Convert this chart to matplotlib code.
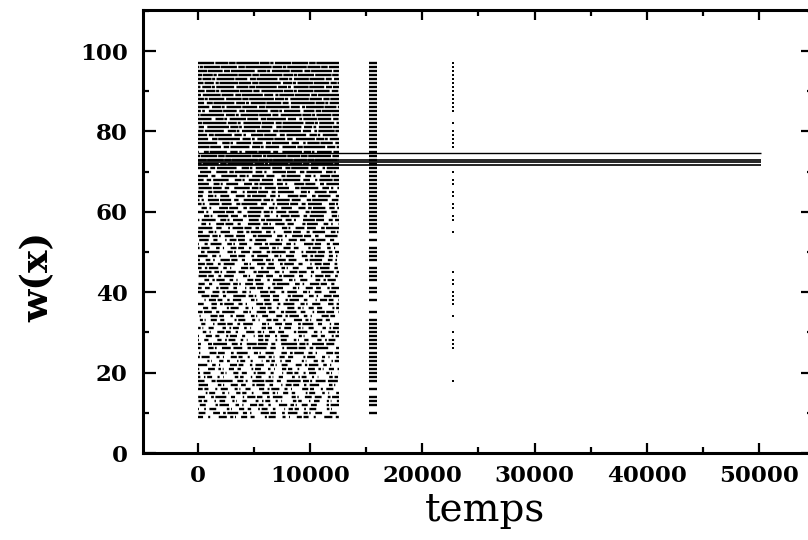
import matplotlib
matplotlib.use("Agg")
import matplotlib.pyplot as plt
from matplotlib.ticker import MultipleLocator

# ---------------- data ----------------
# main block: one row per integer level of w(x), with the fraction of time occupied
block_levels = list(range(9, 98))
block_fill = [
    0.45, 0.55, 0.40, 0.50, 0.35, 0.55, 0.40, 0.45, 0.50, 0.70,   # 9-18
    0.35, 0.45, 0.40, 0.50, 0.35, 0.45, 0.55, 0.65, 0.70, 0.40,   # 19-28
    0.45, 0.50, 0.40, 0.55, 0.45, 0.50, 0.60, 0.45, 0.55, 0.50,   # 29-38
    0.60, 0.55, 0.50, 0.60, 0.50, 0.55, 0.60, 0.50, 0.55, 0.60,   # 39-48
    0.55, 0.65, 0.50, 0.60, 0.55, 0.65, 0.60, 0.65, 0.60, 0.70,   # 49-58
    0.65, 0.70, 0.65, 0.70, 0.75, 0.65, 0.70, 0.75, 0.70, 0.75,   # 59-68
    0.70, 0.75, 0.80, 0.95, 0.95, 0.95, 0.80, 0.85, 0.80, 0.85,   # 69-78
    0.80, 0.85, 0.85, 0.90, 0.85, 0.90, 0.85, 0.90, 0.90, 0.92,   # 79-88
    0.90, 0.92, 0.90, 0.92, 0.90, 0.95, 0.90, 0.95, 0.95,         # 89-97
]
block_span = (0, 12600)

# vertical strip near t = 15500
strip1_levels = list(range(55, 98)) + [53, 51, 50, 49, 48, 46, 45, 44, 43, 41, 40, 38,
                                       35, 33, 32, 31, 30, 29, 28, 27, 26, 25, 24, 23,
                                       22, 21, 20, 19, 18, 16, 14, 13, 12, 10]
strip1_span = (15200, 15950)

# vertical strip near t = 22700
strip2_levels = [97, 96, 95, 94, 93, 92, 91, 90, 89, 88, 87, 86, 85, 82, 80, 79, 78,
                 77, 76, 70, 68, 67, 65, 64, 62, 61, 59, 58, 55, 45, 43, 42, 40, 39,
                 38, 37, 34, 30, 28, 27, 26, 18]
strip2_span = (22620, 22860)

# long-lived plateau levels
plateau_levels = [74.55, 73.0, 72.4, 71.75]
plateau_span = (0, 50200)

x_ticks = [0, 10000, 20000, 30000, 40000, 50000]
y_ticks = [0, 20, 40, 60, 80, 100]

# ---------------- styling ----------------
plt.rcParams["lines.scale_dashes"] = False
fig = plt.figure(figsize=(8.08, 5.40), dpi=100)
ax = fig.add_axes([143 / 808, 1 - 453 / 540, (813 - 143) / 808, (453 - 10) / 540])

on_w = [5, 2, 8, 3, 1, 6, 4, 2, 7, 3, 1, 5]
off_w = [2, 4, 1, 3, 5, 2, 1, 3, 2, 6, 1, 4]
shifts = [0, 37, 11, 53, 23, 71, 5, 44, 62, 17, 31, 80, 8, 57, 26, 66, 14, 49, 3, 75]


def dash_style(p, k):
    if p >= 0.99:
        return "-"
    period = 40 + 80 * p
    n = len(on_w)
    r = (5 * k) % n
    s = (7 * k + 3) % n
    ow = on_w[r:] + on_w[:r]
    fw = off_w[s:] + off_w[:s]
    seq = []
    for a, b in zip(ow, fw):
        seq.append(max(a / sum(on_w) * p * period, 0.5))
        seq.append(max(b / sum(off_w) * (1 - p) * period, 0.5))
    return (shifts[k % len(shifts)] * period / 80.0, seq)


lw = 1.7
for k, (lev, p) in enumerate(zip(block_levels, block_fill)):
    ax.plot(block_span, [lev, lev], color="black", lw=lw,
            linestyle=dash_style(p, k), solid_capstyle="butt")

for lev in strip1_levels:
    ax.plot(strip1_span, [lev, lev], color="black", lw=1.7, solid_capstyle="butt")

for lev in strip2_levels:
    ax.plot(strip2_span, [lev, lev], color="black", lw=1.4, solid_capstyle="butt")

for lev, w in zip(plateau_levels, [1.0, 1.2, 1.2, 1.2]):
    ax.plot(plateau_span, [lev, lev], color="black", lw=w, solid_capstyle="butt")

ax.set_xlim(-4902, 54813)
ax.set_ylim(0, 110.2)

ax.set_xticks(x_ticks)
ax.set_yticks(y_ticks)
ax.xaxis.set_minor_locator(MultipleLocator(5000))
ax.yaxis.set_minor_locator(MultipleLocator(10))

for s in ax.spines.values():
    s.set_linewidth(2.2)

ax.tick_params(which="both", direction="in", top=True, right=True, width=1.6)
ax.tick_params(which="major", axis="x", length=7, pad=9)
ax.tick_params(which="major", axis="y", length=9, pad=11)
ax.tick_params(which="minor", length=4)

for lab in ax.get_xticklabels() + ax.get_yticklabels():
    lab.set_fontfamily("DejaVu Serif")
    lab.set_fontweight("bold")
    lab.set_fontsize(16.5)

ax.set_xlabel("temps", fontfamily="DejaVu Serif", fontsize=28, va="baseline")
ax.xaxis.set_label_coords((485 - 143) / 670, (453 - 521) / 443)
ax.set_ylabel("w(x)", fontfamily="DejaVu Serif", fontweight="bold", fontsize=27,
              va="center")
ax.yaxis.set_label_coords((38 - 143) / 670, (453 - 277) / 443)

fig.savefig("out.png", dpi=100, facecolor="white")
